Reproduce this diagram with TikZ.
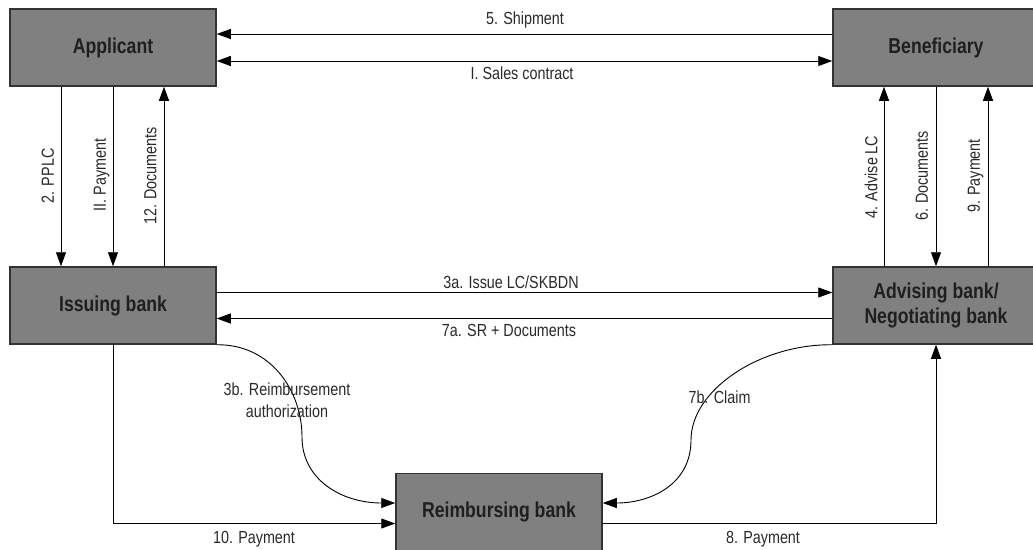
\documentclass[tikz,border=0pt]{standalone}
\usepackage{fontspec}
\setmainfont{Liberation Sans}[FakeStretch=0.82]
\usetikzlibrary{arrows.meta}
\definecolor{boxfill}{HTML}{808080}
\definecolor{boxline}{HTML}{333333}
\definecolor{lbl}{HTML}{2a2a2a}
\begin{document}
\begin{tikzpicture}[x=1pt,y=-1pt,
  tip/.tip={Triangle[length=14pt,width=10pt]},
  party/.style={draw=boxline, line width=1.5pt, fill=boxfill, minimum width=206pt,
    minimum height=77pt, inner sep=0pt, text=black!88,
    font=\bfseries\fontsize{21.5}{25}\selectfont, align=center},
  arr/.style={-tip, line width=0.9pt},
  darr/.style={tip-tip, line width=0.9pt},
  lab/.style={font=\fontsize{17.5}{22}\selectfont, text=lbl, inner sep=0pt,
    text height=12.7pt, text depth=0pt},
  vlab/.style={lab, rotate=90}]
\clip (0,0) rectangle (1033,549);
\fill[white] (0,0) rectangle (1033,549);

% parties
\node[party] (app)  at (113,47.5)  {Applicant};
\node[party] (ben)  at (936,47.5)  {Beneficiary};
\node[party] (iss)  at (113,305.5) {Issuing bank};
\node[party] (adv)  at (936,305.5) {Advising bank/\\Negotiating bank};
\node[party] (reim) at (499,512)   {Reimbursing bank};

% top horizontal
\draw[arr]  ([yshift=13.5pt]ben.west) -- ([yshift=13.5pt]app.east);
\draw[darr] ([yshift=-13.5pt]app.east) -- ([yshift=-13.5pt]ben.west);

% left verticals
\draw[arr] ([xshift=-52pt]app.south) -- ([xshift=-52pt]iss.north);
\draw[arr] (app.south) -- (iss.north);
\draw[arr] ([xshift=51pt]iss.north) -- ([xshift=51pt]app.south);

% right verticals
\draw[arr] ([xshift=-52pt]adv.north) -- ([xshift=-52pt]ben.south);
\draw[arr] (ben.south) -- (adv.north);
\draw[arr] ([xshift=52pt]adv.north) -- ([xshift=52pt]ben.south);

% middle horizontal
\draw[arr] ([yshift=13pt]iss.east) -- ([yshift=13pt]adv.west);
\draw[arr] ([yshift=-13pt]adv.west) -- ([yshift=-13pt]iss.east);

% bottom
\draw[arr] (iss.south) |- ([yshift=-11.5pt]reim.west);
\draw[arr] ([yshift=-11.5pt]reim.east) -| (adv.south);

% curves
\coordinate (m3b) at (302,437);
\draw[arr] (iss.south east) .. controls (270,344) and (302,390) .. (m3b)
  .. controls (302,480) and (342,503) .. ([yshift=9pt]reim.west);
\coordinate (m7b) at (691,440);
\draw[arr] (adv.south west) .. controls (760,344) and (691,390) .. (m7b)
  .. controls (691,485) and (650,503) .. ([yshift=9pt]reim.east);

% labels
\node[lab] (l5)  at (525,18)  {5. Shipment};
\node[lab] (l1)  at (522,73)  {I. Sales contract};
\node[vlab] (l2)  at (47.5,176) {2. PPLC};
\node[vlab] (lII) at (99.5,175) {II. Payment};
\node[vlab] (l12) at (150,176)  {12. Documents};
\node[vlab] (l4)  at (871,177)  {4. Advise LC};
\node[vlab] (l6)  at (921.5,176) {6. Documents};
\node[vlab] (l9)  at (973.5,176) {9. Payment};
\node[lab] (l3a) at (511,282) {3a. Issue LC/SKBDN};
\node[lab] (l7a) at (509,330) {7a. SR + Documents};
\node[lab] (l3b) at (287,389) {3b. Reimbursement};
\node[lab] (l3bb) at (287,411) {authorization};
\node[lab] (l7b) at (719.5,397) {7b. Claim};
\node[lab] (l10) at (254,537) {10. Payment};
\node[lab] (l8)  at (763,537) {8. Payment};
\end{tikzpicture}
\end{document}
